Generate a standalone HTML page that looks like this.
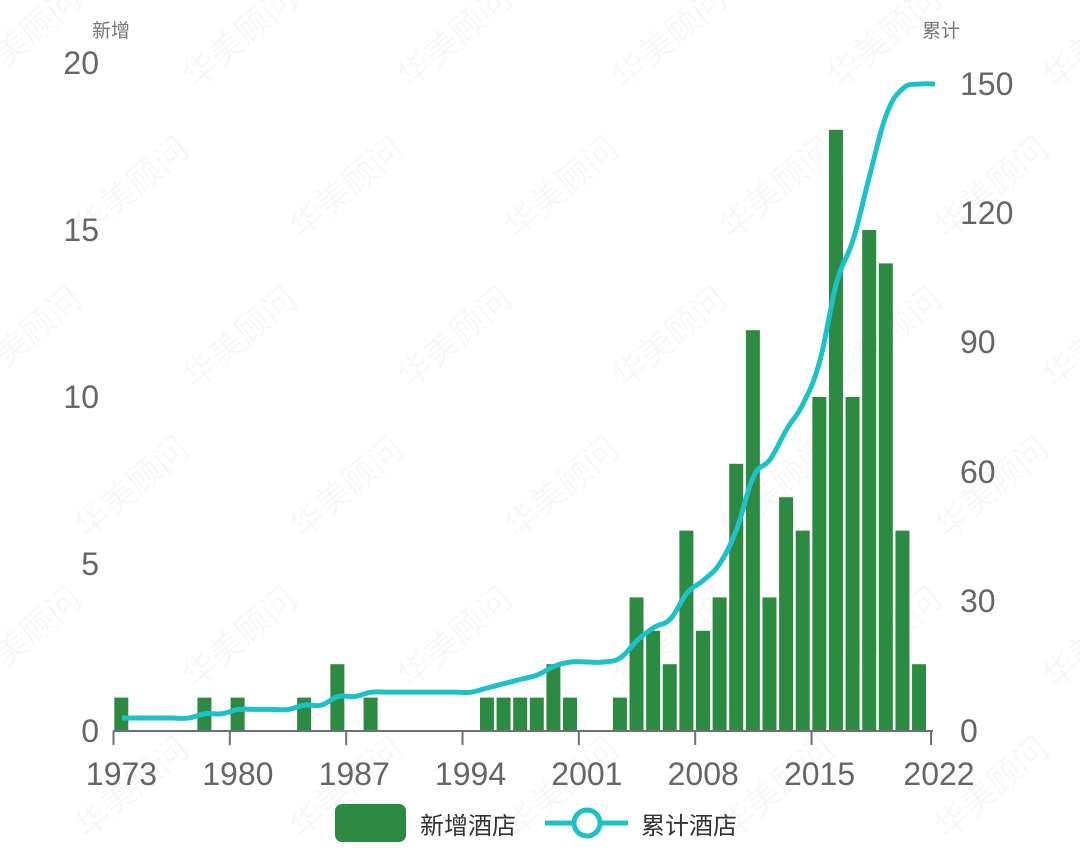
<!DOCTYPE html>
<html><head><meta charset="utf-8"><style>
body{margin:0;background:#fff;}
svg{display:block;font-family:"Liberation Sans","Noto Sans CJK SC",sans-serif;}
</style></head><body>
<svg id="s" width="1080" height="855" viewBox="0 0 1080 855" xmlns="http://www.w3.org/2000/svg">
<g id="wm" fill="#000" fill-opacity="0.03" font-size="34"></g>
<text x="92" y="37" font-size="19" fill="#777">新增</text>
<text x="922" y="37" font-size="19" fill="#777">累计</text>
<g font-size="32" fill="#666" text-anchor="end">
<text x="99" y="742">0</text><text x="99" y="575">5</text><text x="99" y="408">10</text><text x="99" y="241">15</text><text x="99" y="74">20</text>
</g>
<g font-size="32" fill="#666" text-anchor="start">
<text x="960" y="742">0</text><text x="960" y="612">30</text><text x="960" y="483">60</text><text x="960" y="353">90</text><text x="960" y="224">120</text><text x="960" y="95">150</text>
</g>
<g id="bars" fill="#2d8a42"></g>
<line x1="113" y1="731" x2="933" y2="731" stroke="#6e7079" stroke-width="2"/>
<g id="ticks" stroke="#6e7079" stroke-width="2"></g>
<g id="xl" font-size="32" fill="#666" text-anchor="middle"></g>
<path id="ln" fill="none" stroke="#1ec2c6" stroke-width="5" stroke-linejoin="round"/>
<rect x="335" y="804" width="71" height="38" rx="7" fill="#2d8a42"/>
<text x="420" y="834" font-size="24" fill="#333">新增酒店</text>
<line x1="545" y1="823" x2="628" y2="823" stroke="#1ec2c6" stroke-width="5"/>
<circle cx="587" cy="823" r="13" fill="#fff" stroke="#1ec2c6" stroke-width="5"/>
<text x="641" y="834" font-size="24" fill="#333">累计酒店</text>
</svg>
<script>
var NS="http://www.w3.org/2000/svg";
function el(t,a,p,txt){var e=document.createElementNS(NS,t);for(var k in a)e.setAttribute(k,a[k]);if(txt)e.textContent=txt;document.getElementById(p).appendChild(e);return e;}
var v={1973:1,1978:1,1980:1,1984:1,1986:2,1988:1,1995:1,1996:1,1997:1,1998:1,1999:2,2000:1,2003:1,2004:4,2005:3,2006:2,2007:6,2008:3,2009:4,2010:8,2011:12,2012:4,2013:7,2014:6,2015:10,2016:18,2017:10,2018:15,2019:14,2020:6,2021:2};
var step=16.62,x0=113.5;
function X(i){return x0+step*i;}
var pts=[],c=2;
for(var i=0;i<49;i++){var y=1973+i,b=v[y]||0;
 if(b){var h=b*33.4;el('rect',{x:X(i)+0.8,y:731-h,width:14,height:h},'bars');}
 c+=b;var cc=Math.min(c,150);pts.push([X(i)+8.5,731-cc*4.313]);}
pts.push([935,731-150*4.313]);
var d="M"+pts[0][0]+","+pts[0][1];
for(var i=0;i<pts.length-1;i++){var p0=pts[Math.max(i-1,0)],p1=pts[i],p2=pts[i+1],p3=pts[Math.min(i+2,pts.length-1)];var t=0.2;
 d+=" C"+(p1[0]+(p2[0]-p0[0])*t)+","+(p1[1]+(p2[1]-p0[1])*t)+" "+(p2[0]-(p3[0]-p1[0])*t)+","+(p2[1]-(p3[1]-p1[1])*t)+" "+p2[0]+","+p2[1];}
document.getElementById('ln').setAttribute('d',d);
for(var k=0;k<=7;k++){var x=X(k*7);if(k==7)x=931;el('line',{x1:x,y1:731,x2:x,y2:745},'ticks');el('text',{x:x+8,y:785},'xl',String(1973+k*7));}
for(var r=0;r<6;r++)for(var q=0;q<6;q++){var x=-20+q*215+(r%2)*107,y=90+r*150;el('text',{x:x,y:y,transform:'rotate(-40 '+x+' '+y+')'},'wm','华美顾问');}
</script>
</body></html>
